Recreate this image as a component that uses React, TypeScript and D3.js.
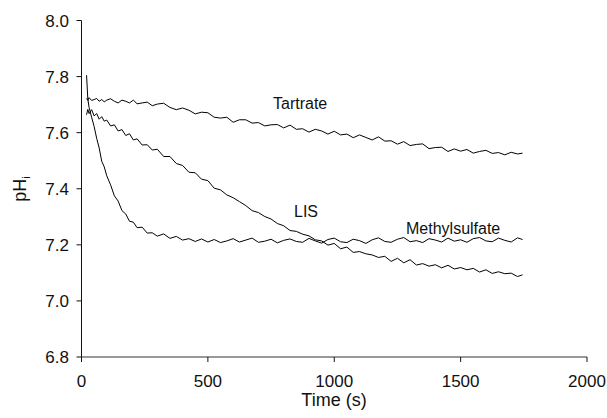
import React from "react";
import * as d3 from "d3";

const times = [
  20, 25, 30, 40, 50, 60, 70, 80, 90, 100,
  115, 130, 145, 160, 175, 190, 205, 220, 240, 260,
  280, 300, 325, 350, 375, 400, 425, 450, 475, 500,
  525, 550, 575, 600, 625, 650, 675, 700, 725, 750,
  775, 800, 825, 850, 875, 900, 925, 950, 975, 1000,
  1025, 1050, 1075, 1100, 1125, 1150, 1175, 1200, 1225, 1250,
  1275, 1300, 1325, 1350, 1375, 1400, 1425, 1450, 1475, 1500,
  1525, 1550, 1575, 1600, 1625, 1650, 1675, 1700, 1725, 1745,
];

const tartrate = [
  7.722, 7.715, 7.725, 7.715, 7.718, 7.722, 7.712, 7.718, 7.71, 7.716,
  7.721, 7.712, 7.706, 7.716, 7.712, 7.706, 7.716, 7.703, 7.706, 7.709,
  7.696, 7.702, 7.705, 7.69, 7.682, 7.688, 7.68, 7.667, 7.673, 7.671,
  7.655, 7.652, 7.655, 7.637, 7.646, 7.646, 7.634, 7.636, 7.624, 7.628,
  7.629, 7.617, 7.627, 7.612, 7.614, 7.602, 7.612, 7.606, 7.595, 7.605,
  7.592, 7.595, 7.582, 7.592, 7.583, 7.574, 7.585, 7.57, 7.571, 7.559,
  7.568, 7.554, 7.558, 7.56, 7.543, 7.547, 7.548, 7.533, 7.542, 7.534,
  7.54, 7.527, 7.533, 7.537, 7.526, 7.529, 7.521, 7.53, 7.524, 7.527,
];

const lis = [
  7.664, 7.683, 7.668, 7.682, 7.66, 7.668, 7.648, 7.657, 7.641, 7.645,
  7.624, 7.628, 7.606, 7.611, 7.59, 7.596, 7.574, 7.578, 7.556, 7.557,
  7.538, 7.541, 7.515, 7.515, 7.49, 7.483, 7.459, 7.457, 7.434, 7.429,
  7.402, 7.396, 7.378, 7.368, 7.354, 7.34, 7.322, 7.315, 7.301, 7.292,
  7.276, 7.268, 7.251, 7.248, 7.238, 7.232, 7.218, 7.214, 7.199, 7.205,
  7.186, 7.192, 7.173, 7.176, 7.168, 7.164, 7.155, 7.159, 7.141, 7.152,
  7.136, 7.147, 7.128, 7.133, 7.124, 7.129, 7.118, 7.127, 7.114, 7.119,
  7.111, 7.116, 7.103, 7.111, 7.098, 7.104, 7.097, 7.099, 7.087, 7.093,
];

const methylsulfate = [
  7.805, 7.72, 7.69, 7.655, 7.622, 7.58, 7.545, 7.498, 7.478, 7.446,
  7.414, 7.375, 7.356, 7.322, 7.31, 7.284, 7.281, 7.261, 7.263, 7.242,
  7.243, 7.231, 7.239, 7.223, 7.23, 7.217, 7.222, 7.212, 7.221, 7.21,
  7.219, 7.208, 7.214, 7.222, 7.21, 7.217, 7.224, 7.209, 7.213, 7.22,
  7.207, 7.216, 7.221, 7.212, 7.209, 7.223, 7.214, 7.206, 7.219, 7.224,
  7.211, 7.208, 7.22, 7.215, 7.205, 7.218, 7.225, 7.212, 7.209, 7.22,
  7.226, 7.211, 7.215, 7.208, 7.222, 7.217, 7.21, 7.224, 7.213, 7.218,
  7.209, 7.222, 7.226, 7.214, 7.211, 7.224, 7.216, 7.21, 7.225, 7.219,
];

const xTicks = [0, 500, 1000, 1500, 2000];
const yTicks = [6.8, 7.0, 7.2, 7.4, 7.6, 7.8, 8.0];

const seriesNames = ["Tartrate", "LIS", "Methylsulfate"];

const FONT = "'Liberation Sans', Arial, Helvetica, sans-serif";

export default function App() {
  const W = 607;
  const H = 418;
  const x = d3.scaleLinear().domain([0, 2000]).range([81.5, 587]);
  const y = d3.scaleLinear().domain([6.8, 8.0]).range([357, 20.5]);

  const line = d3
    .line<[number, number]>()
    .x((d) => x(d[0]))
    .y((d) => y(d[1]));

  const series = [tartrate, lis, methylsulfate].map((vals) =>
    times.map((t, i) => [t, vals[i]] as [number, number])
  );

  return (
    <svg
      width={W}
      height={H}
      style={{ position: "absolute", left: 0, top: 0, background: "#fff" }}
      fontFamily={FONT}
    >
      <rect x={0} y={0} width={W} height={H} fill="#fff" />
      <line x1={81.5} x2={81.5} y1={20.5} y2={357} stroke="#111" strokeWidth={1} />
      <line x1={81.5} x2={587} y1={357} y2={357} stroke="#333" strokeWidth={1} />
      {yTicks.map((v) => (
        <g key={"y" + v}>
          <line x1={76.5} x2={81.5} y1={y(v)} y2={y(v)} stroke="#111" />
          <text
            x={69}
            y={y(v)}
            dy="0.36em"
            textAnchor="end"
            fontSize={17}
            fill="#111"
          >
            {v.toFixed(1)}
          </text>
        </g>
      ))}
      {xTicks.map((v) => (
        <g key={"x" + v}>
          <line x1={x(v)} x2={x(v)} y1={357} y2={362} stroke="#111" />
          <text x={x(v)} y={387} textAnchor="middle" fontSize={17} fill="#111">
            {v}
          </text>
        </g>
      ))}
      <text x={334} y={405.5} textAnchor="middle" fontSize={18} fill="#111">
        Time (s)
      </text>
      <text
        transform="translate(25.5,189) rotate(-90)"
        textAnchor="middle"
        fontSize={18}
        fill="#111"
      >
        pH
        <tspan fontSize={11} dy={4}>
          i
        </tspan>
      </text>
      {series.map((s, i) => (
        <path
          key={i}
          d={line(s) || ""}
          fill="none"
          stroke="#000"
          strokeWidth={1}
        />
      ))}
      <text x={273} y={108.5} fontSize={16} fill="#111">
        {seriesNames[0]}
      </text>
      <text x={294} y={217} fontSize={16} fill="#111">
        {seriesNames[1]}
      </text>
      <text x={406} y={233.5} fontSize={16} fill="#111">
        {seriesNames[2]}
      </text>
    </svg>
  );
}
